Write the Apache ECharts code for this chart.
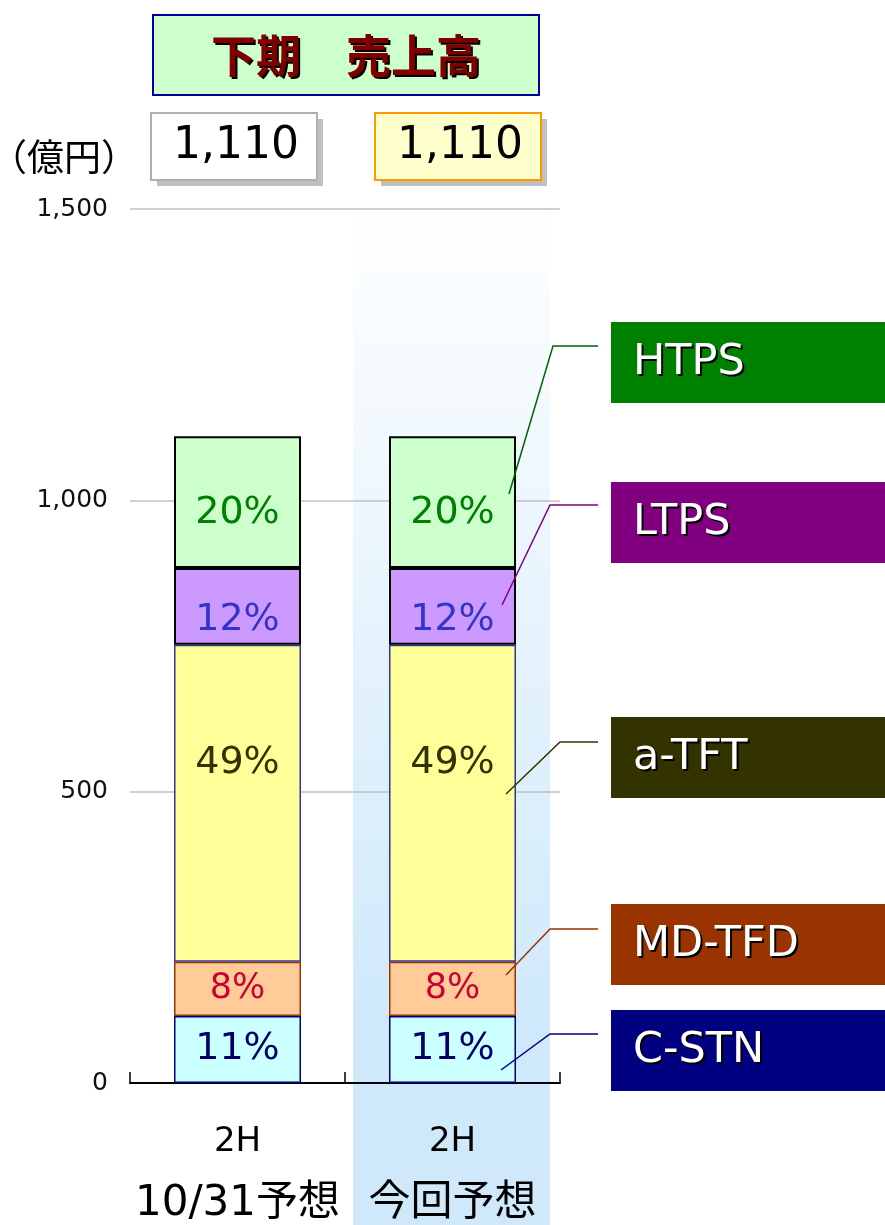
<!DOCTYPE html>
<html>
<head>
<meta charset="utf-8">
<script src="https://cdn.jsdelivr.net/npm/echarts@6/dist/echarts.min.js"></script>
<style>
  html, body { margin: 0; padding: 0; background: #fff; }
  #main { width: 885px; height: 1225px; }
</style>
</head>
<body>
<div id="main"></div>
<script>
// 下期 売上高（億円）
const periods = ['2H', '2H'];
const categories = ['10/31予想', '今回予想'];
const seriesNames = ['C-STN', 'MD-TFD', 'a-TFT', 'LTPS', 'HTPS'];
const cstn = [115, 115];
const mdtfd = [93, 93];
const atft = [544, 544];
const ltps = [132, 132];
const htps = [226, 226];
const pctLabels = ['11%', '8%', '49%', '12%', '20%'];
const yMin = 0, yMax = 1500, yStep = 500;

const fills = ['#ccffff', '#ffcc99', '#ffff99', '#cc99ff', '#ccffcc'];
const borders = ['#000080', '#993300', '#333399', '#000000', '#000000'];
const labelColors = ['#000066', '#cc0033', '#333300', '#3333cc', '#008000'];
const labelSizes = [38, 35, 38, 38, 38];
const labelOffsetY = [0, 0, -40, 14, 11];
const legendColors = ['#000080', '#993300', '#333300', '#800080', '#008000'];
const leaderColors = ['#000080', '#993300', '#333300', '#800080', '#006600'];
const legendY = [1010, 904, 717, 482, 322];
// leader lines: [start on box, elbow, end inside bar]
const leaders = [
  [[598, 1034], [550, 1034], [501, 1070]],
  [[598, 929], [550, 929], [506, 975]],
  [[598, 742], [560, 742], [506, 794]],
  [[598, 505], [550, 505], [502, 605]],
  [[598, 346], [553, 346], [509, 494]]
];

const values = [cstn, mdtfd, atft, ltps, htps];
const totals = periods.map((p, i) => values.reduce((s, v) => s + v[i], 0));
const fmt = n => n.toLocaleString('en-US');

const latin = '"DejaVu Sans", Verdana, sans-serif';
const cjk = '"DejaVu Sans", "Noto Sans CJK JP", sans-serif';

const chart = echarts.init(document.getElementById('main'));

const series = seriesNames.map((name, k) => {
  const label = {
    show: true,
    position: 'inside',
    formatter: () => pctLabels[k],
    color: labelColors[k],
    fontSize: labelSizes[k],
    fontFamily: latin
  };
  if (labelOffsetY[k]) label.offset = [0, labelOffsetY[k]];
  return {
    name: name,
    type: 'bar',
    stack: 'total',
    barWidth: 127,
    data: values[k],
    itemStyle: { color: fills[k], borderColor: borders[k], borderWidth: k >= 3 ? 2 : 1.5 },
    label: label
  };
});

// text with a hard drop shadow (drawn as a second text)
function shadowText(x, y, text, fill, font, align) {
  return [
    { type: 'text', x: x + 2, y: y + 2, style: { text: text, fill: '#000', font: font, align: align, verticalAlign: 'middle' } },
    { type: 'text', x: x, y: y, style: { text: text, fill: fill, font: font, align: align, verticalAlign: 'middle' } }
  ];
}

const graphic = [];
// 今回予想 background band
graphic.push({
  type: 'rect', z: -10, silent: true,
  shape: { x: 353, y: 200, width: 197, height: 1025 },
  style: {
    fill: new echarts.graphic.LinearGradient(0, 0, 0, 1, [
      { offset: 0, color: '#ffffff' },
      { offset: 0.8, color: '#cfe9fb' },
      { offset: 1, color: '#cfe9fb' }
    ])
  }
});
// title
graphic.push({
  type: 'rect', shape: { x: 153, y: 15, width: 386, height: 80 },
  style: { fill: '#ccffcc', stroke: '#000099', lineWidth: 2 }
});
graphic.push(...shadowText(346, 56, '下期\u3000売上高', '#800000', 'bold 45px "Noto Sans CJK JP", sans-serif', 'center'));
// unit
graphic.push({
  type: 'text', x: -10, y: 157,
  style: { text: '（億円）', fill: '#000', font: '37px "Noto Sans CJK JP", sans-serif', verticalAlign: 'middle' }
});
// total boxes
const boxX = [151, 375];
const boxFill = ['#ffffff', '#ffffcc'];
const boxStroke = ['#b0b0b0', '#ff9900'];
totals.forEach((t, i) => {
  graphic.push({
    type: 'rect', shape: { x: boxX[i] + 6, y: 119, width: 166, height: 67 },
    style: { fill: '#c0c0c0' }
  });
  graphic.push({
    type: 'rect', shape: { x: boxX[i], y: 113, width: 166, height: 67 },
    style: { fill: boxFill[i], stroke: boxStroke[i], lineWidth: 2 }
  });
  graphic.push({
    type: 'text', x: boxX[i] + 85, y: 147,
    style: { text: fmt(t), fill: '#000', font: '44px ' + latin, align: 'center', verticalAlign: 'middle' }
  });
});
// legend boxes + leader lines
seriesNames.forEach((name, k) => {
  graphic.push({
    type: 'rect', shape: { x: 611, y: legendY[k], width: 274, height: 81 },
    style: { fill: legendColors[k] }
  });
  graphic.push(...shadowText(633, legendY[k] + 41, name, '#fff', '43px ' + latin, 'left'));
  graphic.push({
    type: 'polyline', z: 10, shape: { points: leaders[k] },
    style: { stroke: leaderColors[k], lineWidth: 1.5, fill: null }
  });
});

const option = {
  animation: false,
  backgroundColor: '#ffffff',
  grid: { left: 130, top: 209, width: 430, height: 874 },
  xAxis: {
    type: 'category',
    data: categories,
    axisLine: { lineStyle: { color: '#000', width: 2 } },
    axisTick: { show: true, inside: true, length: 11, lineStyle: { color: '#000', width: 1.5 } },
    axisLabel: {
      interval: 0,
      margin: 36,
      formatter: (v, i) => '{a|' + periods[i] + '}\n{b|' + v + '}',
      rich: {
        a: { fontSize: 34, lineHeight: 46, color: '#000', fontFamily: latin },
        b: { fontSize: 42, lineHeight: 78, color: '#000', fontFamily: cjk }
      }
    }
  },
  yAxis: {
    type: 'value',
    min: yMin, max: yMax, interval: yStep,
    axisLine: { show: false },
    axisTick: { show: false },
    axisLabel: {
      margin: 22, fontSize: 25, color: '#111', fontFamily: latin,
      formatter: v => fmt(v)
    },
    splitLine: { lineStyle: { color: '#c0c0c0', width: 1.5 } }
  },
  graphic: graphic,
  series: series
};

chart.setOption(option);
</script>
</body>
</html>
